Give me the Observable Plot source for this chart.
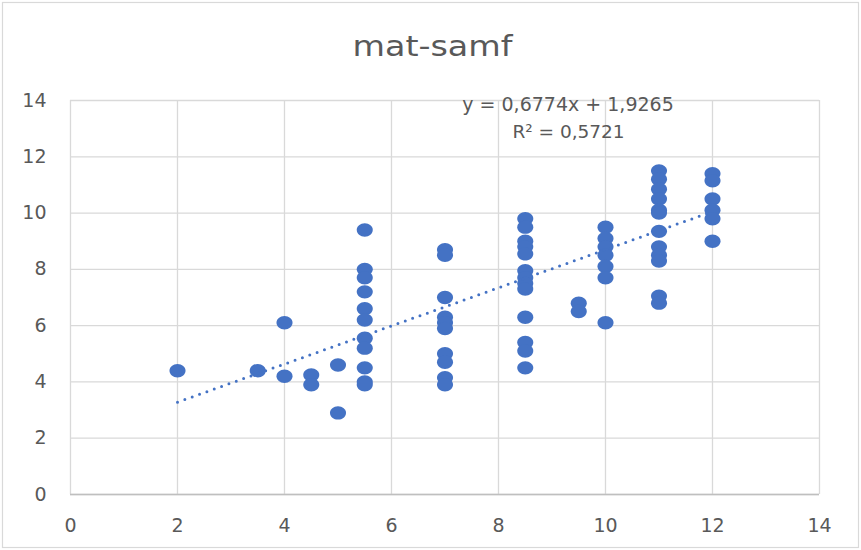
<!DOCTYPE html>
<html>
<head>
<meta charset="utf-8">
<script src="https://cdn.jsdelivr.net/npm/d3@7"></script>
<script src="https://cdn.jsdelivr.net/npm/@observablehq/plot@0.6"></script>
<style>
  html, body { margin: 0; padding: 0; background: #fff; }
  #chart svg { display: block; }
</style>
</head>
<body>
<div id="chart"></div>
<script>
const title = "mat-samf";
const xCats = [2, 3.5, 4, 4.5, 5, 5.5, 7, 8.5, 9.5, 10, 11, 12];
const yAt2 = [4.4];
const yAt3_5 = [4.4];
const yAt4 = [6.1, 4.2];
const yAt4_5 = [4.25, 3.9];
const yAt5 = [4.6, 2.9];
const yAt5_5 = [9.4, 8.0, 7.7, 7.2, 6.6, 6.2, 5.55, 5.2, 4.5, 4.0, 3.9];
const yAt7 = [8.7, 8.5, 7.0, 6.3, 6.1, 5.9, 5.0, 4.7, 4.15, 3.9];
const yAt8_5 = [9.8, 9.5, 9.0, 8.8, 8.55, 7.95, 7.7, 7.5, 7.3, 6.3, 5.4, 5.1, 4.5];
const yAt9_5 = [6.8, 6.5];
const yAt10 = [9.5, 9.1, 8.8, 8.5, 8.1, 7.7, 6.1];
const yAt11 = [11.5, 11.2, 10.85, 10.5, 10.1, 10.0, 9.35, 8.8, 8.5, 8.3, 7.05, 6.8];
const yAt12 = [11.4, 11.15, 10.5, 10.1, 9.8, 9.0];
const yGroups = [yAt2, yAt3_5, yAt4, yAt4_5, yAt5, yAt5_5, yAt7, yAt8_5, yAt9_5, yAt10, yAt11, yAt12];
const xTicks = [0, 2, 4, 6, 8, 10, 12, 14];
const yTicks = [0, 2, 4, 6, 8, 10, 12, 14];
const slope = 0.6774;
const intercept = 1.9265;
const rSquared = "0,5721";
const trendRange = [2, 12];
const equationText = "y = 0,6774x + 1,9265";
const r2Text = "R² = " + rSquared;

const points = xCats.flatMap((x, i) => yGroups[i].map(y => ({x, y})));
const trend = trendRange.map(x => ({x, y: slope * x + intercept}));

const font = "'DejaVu Sans', 'Open Sans', sans-serif";
const blue = "#4472C4";
const textGray = "#595959";
const gridGray = "#d9d9d9";

// Excel-like marker, slightly wider than tall
const ovalSymbol = {
  draw(context, size) {
    const r = Math.sqrt(size / Math.PI);
    const rx = r * 1.1, ry = r * 0.92, k = 0.5523;
    context.moveTo(rx, 0);
    context.bezierCurveTo(rx, ry * k, rx * k, ry, 0, ry);
    context.bezierCurveTo(-rx * k, ry, -rx, ry * k, -rx, 0);
    context.bezierCurveTo(-rx, -ry * k, -rx * k, -ry, 0, -ry);
    context.bezierCurveTo(rx * k, -ry, rx, -ry * k, rx, 0);
    context.closePath();
  }
};

const chart = Plot.plot({
  width: 861,
  height: 550,
  marginLeft: 70,
  marginRight: 42,
  marginTop: 100,
  marginBottom: 56,
  style: { fontFamily: font, color: textGray, background: "#fff" },
  x: { domain: [0, 14] },
  y: { domain: [0, 14] },
  marks: [
    Plot.gridX(xTicks, { stroke: gridGray, strokeOpacity: 1, strokeWidth: 1.3 }),
    Plot.gridY(yTicks, { stroke: gridGray, strokeOpacity: 1, strokeWidth: 1.3 }),
    Plot.ruleY([0], { stroke: "#bfbfbf", strokeWidth: 1.5 }),
    Plot.axisX(xTicks, { tickSize: 0, tickPadding: 24, fontSize: 19, fill: textGray, label: null }),
    Plot.axisY(yTicks, { tickSize: 0, tickPadding: 24, fontSize: 19, fill: textGray, label: null }),
    Plot.dot(points, { x: "x", y: "y", r: 7.3, symbol: ovalSymbol, fill: blue, stroke: "none" }),
    Plot.line(trend, { x: "x", y: "y", stroke: blue, strokeWidth: 3, strokeDasharray: "0 7.8", strokeLinecap: "round" }),
    Plot.text([title], { frameAnchor: "top", dx: -12.5, dy: -53.5, lineAnchor: "middle", fontSize: 29, fill: textGray }),
    Plot.text([equationText], { frameAnchor: "top", dx: 123, dy: 4, lineAnchor: "middle", fontSize: 19, fill: textGray }),
    Plot.text([r2Text], { frameAnchor: "top", dx: 123.5, dy: 32, lineAnchor: "middle", fontSize: 18.5, fill: textGray })
  ]
});

// widen the title to the reference's stretched lettering
chart.querySelectorAll("text").forEach(t => {
  if (t.textContent === title) {
    t.setAttribute("textLength", 160);
    t.setAttribute("lengthAdjust", "spacingAndGlyphs");
  }
});

d3.select(chart).insert("rect", ":first-child")
  .attr("x", 2.5).attr("y", 2.5).attr("width", 856).attr("height", 545)
  .attr("fill", "none").attr("stroke", gridGray).attr("stroke-width", 1.2);

document.getElementById("chart").append(chart);
</script>
</body>
</html>
